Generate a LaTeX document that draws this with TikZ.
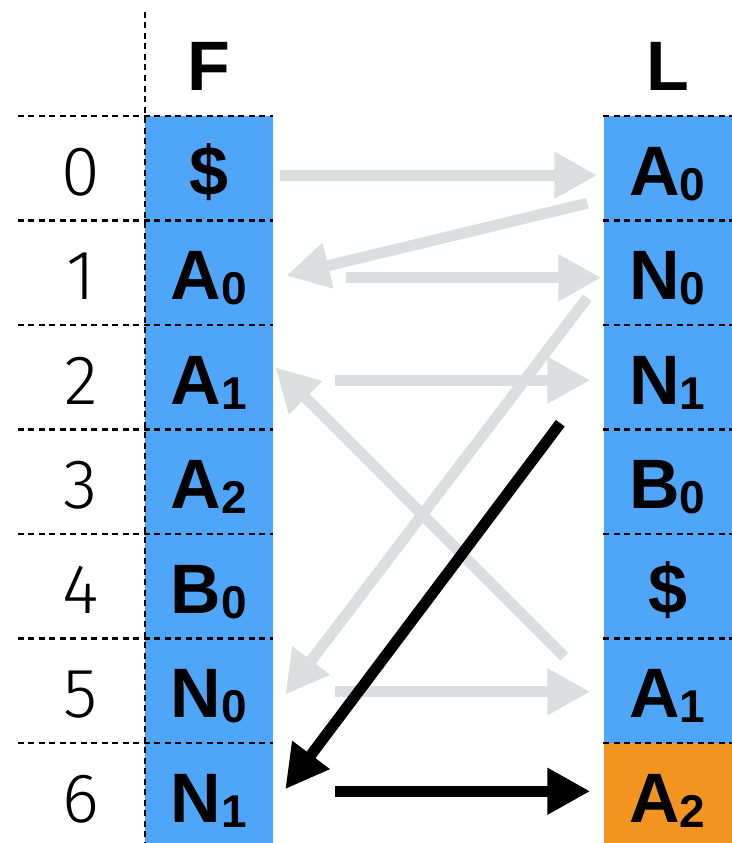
\documentclass[tikz,border=0pt]{standalone}
\usepackage{fontspec}
\setmainfont{Liberation Sans}
\newfontfamily\numfont{Fira Sans Light}
\usetikzlibrary{arrows.meta,positioning,calc}
\definecolor{cellblue}{HTML}{4FA6F9}
\definecolor{cellorange}{HTML}{F39420}
\definecolor{arrgray}{HTML}{DCDDDE}
\newcommand{\cellsub}[2]{#1\raisebox{-5pt}{\fontsize{46}{46}\selectfont #2}}

\begin{document}
\begin{tikzpicture}[
  x=1pt, y=-1pt,
  cell/.style={fill=cellblue, minimum width=128pt, minimum height=104.5pt, inner sep=0pt, text height=58pt, text depth=4pt, font=\fontsize{70}{84}\selectfont\bfseries},
  rownum/.style={inner sep=0pt, text height=58pt, text depth=4pt, font=\numfont\fontsize{70}{84}\selectfont},
  head/.style={anchor=base, inner sep=0pt, font=\fontsize{70}{84}\selectfont\bfseries},
  grid/.style={draw=black, line width=2.5pt, dash pattern=on 6pt off 4.5pt},
  garr/.style={-{Triangle[length=43pt,width=44pt]}, line width=11pt, draw=arrgray},
  karr/.style={garr, draw=black}
]
\useasboundingbox (0,0) rectangle (731,843);

% columns F and L
\foreach \lab [count=\i from 0] in {\$, \cellsub{A}{0}, \cellsub{A}{1}, \cellsub{A}{2}, \cellsub{B}{0}, \cellsub{N}{0}, \cellsub{N}{1}}
  \node[cell] (F\i) at (209,168.25+104.5*\i) {\lab};
\foreach \lab [count=\i from 0] in {\cellsub{A}{0}, \cellsub{N}{0}, \cellsub{N}{1}, \cellsub{B}{0}, \$, \cellsub{A}{1}}
  \node[cell] (L\i) at (667.5,168.25+104.5*\i) {\lab};
\node[cell, fill=cellorange] (L6) at (667.5,795.25) {\cellsub{A}{2}};

% row numbers
\foreach \i in {0,...,6}
  \node[rownum] (r\i) at (81,168.25+104.5*\i) {\i};

\node[head] (hF) at (209,90) {F};
\node[head] (hL) at (667.5,90) {L};

% dashed grid
\foreach \i in {0,...,6} {
  \draw[grid] ([xshift=-127pt]F\i.north west) -- (F\i.north east);
  \draw[grid] (L\i.north west) -- (L\i.north east);
}
\draw[grid] (F0.north west |- 0,12) -- (F6.south west);

% grey arrows
\draw[garr] ($(F0.east)+(7,7)$) -- ($(L0.west)+(-6,7)$);
\draw[garr] ($(L0.west)+(-16,35)$) -- ($(F1.east)+(13,3)$);
\draw[garr] ($(F1.east)+(73,5)$) -- ($(L1.west)+(-2,5)$);
\draw[garr] ($(L1.west)+(-16,25)$) -- ($(F5.east)+(12,4)$);
\draw[garr] ($(F2.east)+(62,3)$) -- ($(L2.west)+(-13,3)$);
\draw[garr] ($(L5.west)+(-39,-34)$) -- ($(F2.east)+(2,-10)$);
\draw[garr] ($(F5.east)+(62,1)$) -- ($(L5.west)+(-13,1)$);

% black arrows
\draw[karr] ($(L2.west)+(-43,46)$) -- ($(F6.east)+(12,-6)$);
\draw[karr] ($(F6.east)+(62,-4)$) -- ($(L6.west)+(-13,-4)$);
\end{tikzpicture}
\end{document}
